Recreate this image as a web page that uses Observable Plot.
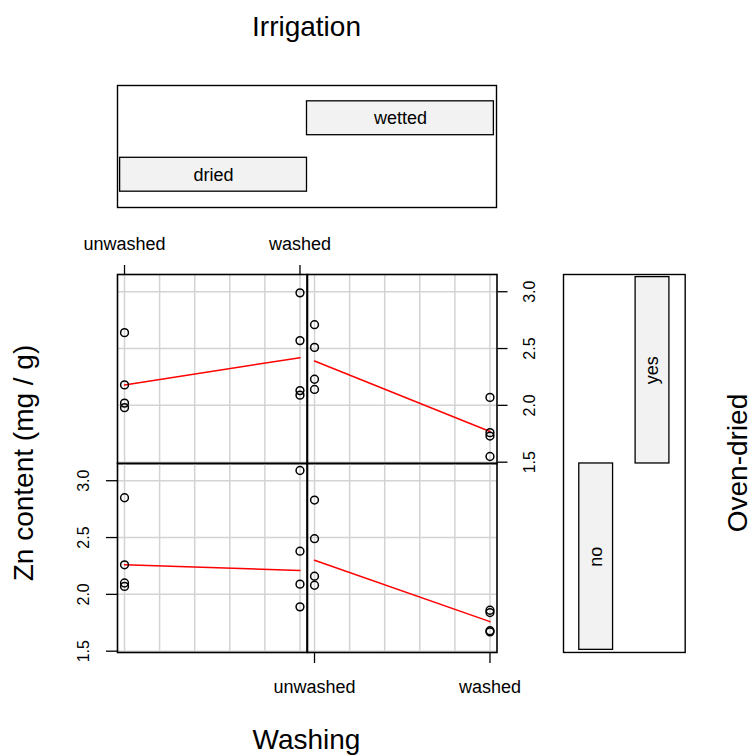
<!DOCTYPE html>
<html>
<head>
<meta charset="utf-8">
<script src="https://cdn.jsdelivr.net/npm/d3@7"></script>
<script src="https://cdn.jsdelivr.net/npm/@observablehq/plot@0.6"></script>
<style>
  body { margin: 0; background: #fff; }
  #chart { position: relative; width: 752px; height: 756px; overflow: hidden; background: #fff; }
</style>
</head>
<body>
<div id="chart"></div>
<script>
// ---------- data ----------
const washingLevels = ["unwashed", "washed"];
const irrigationLevels = ["dried", "wetted"];
const ovenLevels = ["no", "yes"];
const washingCode = [1, 1, 1, 1, 2, 2, 2, 2];

// Zn content (mg / g): first four unwashed, last four washed
const znDriedNo   = [2.85, 2.26, 2.10, 2.07, 3.09, 2.38, 2.09, 1.89];
const znWettedNo  = [2.83, 2.49, 2.16, 2.08, 1.86, 1.84, 1.68, 1.67];
const znDriedYes  = [2.64, 2.18, 2.02, 1.98, 2.99, 2.57, 2.13, 2.09];
const znWettedYes = [2.71, 2.51, 2.23, 2.14, 2.07, 1.76, 1.73, 1.55];

// smoother values at unwashed / washed
const smoothDriedNo   = [2.26, 2.21];
const smoothWettedNo  = [2.30, 1.76];
const smoothDriedYes  = [2.18, 2.42];
const smoothWettedYes = [2.39, 1.77];

const yTicks = [1.5, 2.0, 2.5, 3.0];
const xGridTicks = [1, 1.2, 1.4, 1.6, 1.8, 2.0];
const xTicks = [1, 2];

// ---------- layout ----------
const FONT = '"Liberation Sans", Arial, Helvetica, sans-serif';
const chart = document.getElementById("chart");
const L = { left: 117, top: 274, w: 189.5, h: 189, m: 60 };

const allZn = [...znDriedNo, ...znWettedNo, ...znDriedYes, ...znWettedYes];
const [zLo, zHi] = d3.extent(allZn);
const zPad = (zHi - zLo) * 0.04;
const yDomain = [zLo - zPad, zHi + zPad];
const xDomain = [1 - 0.04, 2 + 0.04];

function place(svg, left, top) {
  svg.style.position = "absolute";
  svg.style.left = left + "px";
  svg.style.top = top + "px";
  chart.append(svg);
}

const baseStyle = { background: "transparent", fontFamily: FONT, overflow: "visible", maxWidth: "none" };

function panel(zn, smooth, col, row, axes) {
  const m = L.m;
  const pts = zn.map((v, i) => ({ w: washingCode[i], zn: v }));
  const fit = smooth.map((v, i) => ({ w: i + 1, zn: v }));
  const marks = [
    Plot.gridX(xGridTicks, { stroke: "#d3d3d3", strokeOpacity: 1, strokeWidth: 1.5 }),
    Plot.gridY(yTicks, { stroke: "#d3d3d3", strokeOpacity: 1, strokeWidth: 1.5 }),
    Plot.line(fit, { x: "w", y: "zn", stroke: "red", strokeWidth: 1.5 }),
    Plot.dot(pts, { x: "w", y: "zn", r: 3.9, stroke: "black", strokeWidth: 1.5, fill: "none" }),
    Plot.frame({ stroke: "black", strokeWidth: 1.6 })
  ];
  if (axes === "top") marks.push(Plot.axisX(xTicks, {
    anchor: "top", tickSize: 10, tickPadding: 15, fontSize: 18, strokeWidth: 1.3,
    tickFormat: d => washingLevels[d - 1], label: null
  }));
  if (axes === "bottom") marks.push(Plot.axisX(xTicks, {
    anchor: "bottom", tickSize: 11, tickPadding: 17, fontSize: 18, strokeWidth: 1.3,
    tickFormat: d => washingLevels[d - 1], label: null
  }));
  if (axes === "left") marks.push(Plot.axisY(yTicks, {
    anchor: "left", tickSize: 11, tickPadding: 18, tickRotate: -90, textAnchor: "middle",
    lineAnchor: "bottom", fontSize: 16, strokeWidth: 1.3, tickFormat: d => d.toFixed(1), label: null
  }));
  if (axes === "right") marks.push(Plot.axisY(yTicks, {
    anchor: "right", tickSize: 10, tickPadding: 17, tickRotate: -90, textAnchor: "middle",
    lineAnchor: "top", fontSize: 16, strokeWidth: 1.3, tickFormat: d => d.toFixed(1), label: null
  }));
  const svg = Plot.plot({
    width: L.w + 2 * m, height: L.h + 2 * m, margin: m,
    style: baseStyle,
    x: { type: "linear", domain: xDomain, axis: null, label: null },
    y: { type: "linear", domain: yDomain, axis: null, label: null },
    marks
  });
  place(svg, L.left + col * L.w - m, L.top + row * L.h - m);
}

// rows: 0 = oven-dried "yes" (top), 1 = "no" (bottom); cols: 0 = dried, 1 = wetted
panel(znDriedYes, smoothDriedYes, 0, 0, "top");
panel(znWettedYes, smoothWettedYes, 1, 0, "right");
panel(znDriedNo, smoothDriedNo, 0, 1, "left");
panel(znWettedNo, smoothWettedNo, 1, 1, "bottom");

// ---------- given panels ----------
const gDomain = [0.486, 2.514];
const gCross = [0.42, 2.58];

// Irrigation (top)
{
  const m = 10;
  const bars = irrigationLevels.map((d, i) => ({ level: d, i: i + 1 }));
  const svg = Plot.plot({
    width: 2 * L.w + 2 * m, height: 122 + 2 * m, margin: m,
    style: baseStyle,
    x: { type: "linear", domain: gDomain, axis: null },
    y: { type: "linear", domain: gCross, axis: null },
    marks: [
      Plot.rect(bars, { x1: d => d.i - 0.5, x2: d => d.i + 0.5, y1: d => d.i - 0.3, y2: d => d.i + 0.3,
        fill: "#f2f2f2", stroke: "black", strokeWidth: 1.3 }),
      Plot.text(bars, { x: "i", y: "i", text: "level", fontSize: 18, fill: "black" }),
      Plot.frame({ stroke: "black", strokeWidth: 1.4 })
    ]
  });
  place(svg, L.left - m, 85 - m);
}

// Oven-dried (right)
{
  const m = 10;
  const bars = ovenLevels.map((d, i) => ({ level: d, i: i + 1 }));
  const svg = Plot.plot({
    width: 121.7 + 2 * m, height: 2 * L.h + 2 * m, margin: m,
    style: baseStyle,
    x: { type: "linear", domain: gCross, axis: null },
    y: { type: "linear", domain: gDomain, axis: null },
    marks: [
      Plot.rect(bars, { x1: d => d.i - 0.3, x2: d => d.i + 0.3, y1: d => d.i - 0.5, y2: d => d.i + 0.5,
        fill: "#f2f2f2", stroke: "black", strokeWidth: 1.3 }),
      Plot.text(bars, { x: "i", y: "i", text: "level", fontSize: 18, rotate: -90, fill: "black" }),
      Plot.frame({ stroke: "black", strokeWidth: 1.4 })
    ]
  });
  place(svg, 563.3 - m, L.top - m);
}

// ---------- titles ----------
const ov = d3.create("svg")
  .attr("width", 752).attr("height", 756)
  .style("position", "absolute").style("left", "0px").style("top", "0px")
  .style("font-family", FONT).style("pointer-events", "none");
const cx = L.left + L.w;             // centre of panel block horizontally
const cy = L.top + L.h;              // centre vertically
ov.append("text").attr("x", cx).attr("y", 36).attr("text-anchor", "middle")
  .attr("font-size", 28).text("Irrigation");
ov.append("text").attr("x", cx).attr("y", 749).attr("text-anchor", "middle")
  .attr("font-size", 28).text("Washing");
ov.append("text").attr("transform", `translate(32.5,${cy}) rotate(-90)`).attr("text-anchor", "middle")
  .attr("font-size", 28).text("Zn content (mg / g)");
ov.append("text").attr("transform", `translate(747,${cy}) rotate(-90)`).attr("text-anchor", "middle")
  .attr("font-size", 28).text("Oven-dried");
chart.prepend(ov.node());
</script>
</body>
</html>
